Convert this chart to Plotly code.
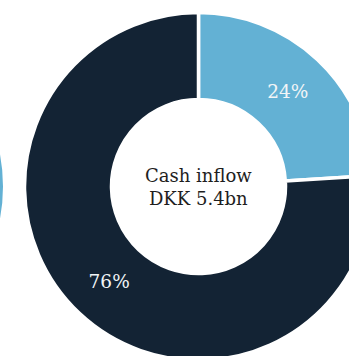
import plotly.graph_objects as go

# Data
segments = ["Share A", "Share B"]
shares = [24, 76]
center_title = "Cash inflow"
center_value = "DKK 5.4bn"

LIGHT = "#63b1d4"
DARK = "#132334"
FONT = "DejaVu Serif"

W, H = 380, 370

fig = go.Figure()
fig.add_trace(go.Pie(
    labels=segments,
    values=shares,
    hole=0.5,
    sort=False,
    direction="clockwise",
    rotation=0,
    marker=dict(colors=[LIGHT, DARK], line=dict(color="white", width=3.5)),
    textinfo="percent",
    textposition="inside",
    insidetextorientation="horizontal",
    textfont=dict(family=FONT, size=18.5, color="#f2f5f7"),
    domain=dict(x=[24.5 / W, 372.5 / W], y=[(H - 360.5) / H, (H - 12.5) / H]),
    showlegend=False,
    hoverinfo="label+percent",
))

cx = (24.5 + 372.5) / 2 / W
cy = (H - 187) / H
fig.add_annotation(
    x=cx, y=cy, xref="paper", yref="paper",
    text=center_title + "<br>" + center_value,
    showarrow=False,
    font=dict(family=FONT, size=18, color="#1e1e1e"),
    xanchor="center", yanchor="middle",
)

# neighbouring chart edge (cropped) at the far left
fig.add_shape(
    type="circle", xref="paper", yref="paper",
    x0=(-171.5 - 174.5) / W, x1=3 / W,
    y0=(H - 361) / H, y1=(H - 12) / H,
    fillcolor=LIGHT, line=dict(width=0), layer="below",
)

fig.update_layout(
    width=W, height=H,
    margin=dict(l=0, r=0, t=0, b=0),
    paper_bgcolor="white",
    plot_bgcolor="white",
)

fig.write_html(
    "out.html",
    post_script="document.documentElement.style.overflow='hidden';document.body.style.overflow='hidden';document.body.style.margin='0';",
)
